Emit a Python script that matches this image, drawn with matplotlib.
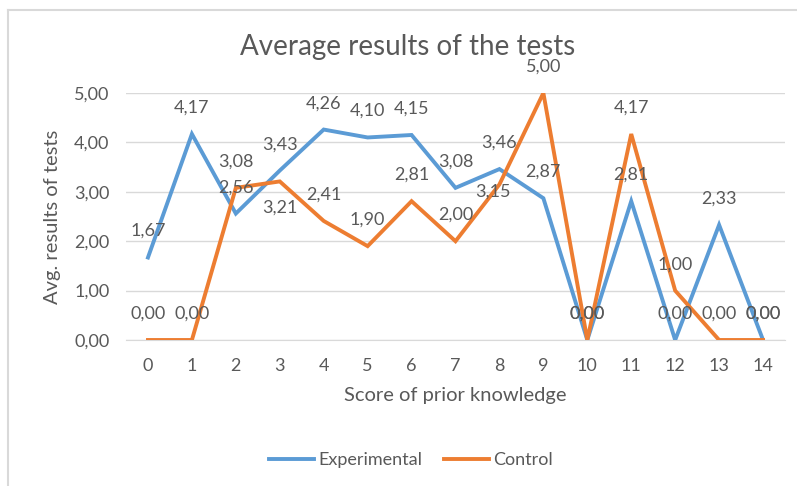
import matplotlib
matplotlib.use("Agg")
from matplotlib import pyplot as plt
from matplotlib.lines import Line2D

scores = list(range(15))
experimental = [1.67, 4.17, 2.56, 3.43, 4.26, 4.10, 4.15, 3.08, 3.46, 2.87, 0.00, 2.81, 0.00, 2.33, 0.00]
control = [0.00, 0.00, 3.08, 3.21, 2.41, 1.90, 2.81, 2.00, 3.15, 5.00, 0.00, 4.17, 1.00, 0.00, 0.00]
y_ticks = [0, 1, 2, 3, 4, 5]

blue = '#5B9BD5'
orange = '#ED7D31'
grey = '#595959'

plt.rcParams['font.family'] = ['Lato', 'DejaVu Sans']

fig = plt.figure(figsize=(7.97, 4.86), dpi=100)
ax = fig.add_axes([126/797, 1-340/486, (785-126)/797, (340-93)/486])

ax.plot(scores, experimental, color=blue, lw=2.8, label='Experimental', solid_joinstyle='miter', zorder=3)
ax.plot(scores, control, color=orange, lw=2.8, label='Control', solid_joinstyle='miter', zorder=3)

def fmt(v):
    return ('%.2f' % v).replace('.', ',')

# data labels, mostly above the point
for x, v in zip(scores, experimental):
    ax.annotate(fmt(v), (x, v), xytext=(0, 19), textcoords='offset points',
                ha='center', va='center', fontsize=13, color=grey)
for x, v in zip(scores, control):
    off = (0, 19)
    if x == 3:
        off = (0, -19)
    elif x == 8:
        off = (-5, -5)
    ax.annotate(fmt(v), (x, v), xytext=off, textcoords='offset points',
                ha='center', va='center', fontsize=13, color=grey)

ax.set_xlim(-0.5, 14.5)
ax.set_ylim(0, 5)
ax.set_xticks(scores)
ax.set_yticks(y_ticks)
ax.set_yticklabels([fmt(t) for t in y_ticks])
ax.tick_params(length=0, labelsize=13, colors=grey)
ax.tick_params(axis='y', pad=12)
ax.tick_params(axis='x', pad=13)
ax.grid(axis='y', color='#D9D9D9', lw=1)
ax.set_axisbelow(True)
for s in ['top', 'right', 'left']:
    ax.spines[s].set_visible(False)
ax.spines['bottom'].set_color('#D9D9D9')

ax.set_xlabel('Score of prior knowledge', fontsize=14.5, color=grey, labelpad=9)
ax.set_ylabel('Avg. results of tests', fontsize=14.5, color=grey, labelpad=9)
fig.text(408/797, 1-47/486, 'Average results of the tests', ha='center', va='center',
         fontsize=20, color=grey)

fig.legend(loc='center', bbox_to_anchor=(411/797, 1-460/486), ncol=2, frameon=False,
           fontsize=13, labelcolor=grey, handlelength=2.5, columnspacing=1.2, handletextpad=0.25)

# chart area border (only top and left visible in the crop)
fig.add_artist(Line2D([8/797, 1], [1-10/486, 1-10/486], color='#D9D9D9', lw=1.5))
fig.add_artist(Line2D([8/797, 8/797], [0, 1-10/486], color='#D9D9D9', lw=1.5))

plt.savefig('out.png', dpi=100)
